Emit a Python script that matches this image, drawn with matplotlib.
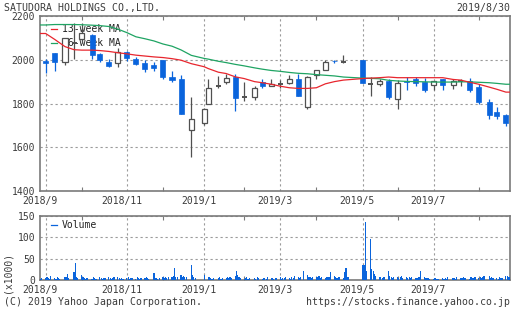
import matplotlib
matplotlib.use("Agg")
import matplotlib.pyplot as plt
import matplotlib.dates as mdates
import matplotlib.transforms as mtransforms
import numpy as np
import pandas as pd

# ---------------- data ----------------
title = "SATUDORA HOLDINGS CO.,LTD."
as_of = "2019/8/30"

week_dates = ["2018-09-03", "2018-09-10", "2018-09-18", "2018-09-25", "2018-10-01",
              "2018-10-09", "2018-10-15", "2018-10-22", "2018-10-29", "2018-11-05",
              "2018-11-12", "2018-11-19", "2018-11-26", "2018-12-03", "2018-12-10",
              "2018-12-17", "2018-12-25", "2019-01-04", "2019-01-07", "2019-01-15",
              "2019-01-21", "2019-01-28", "2019-02-04", "2019-02-12", "2019-02-18",
              "2019-02-25", "2019-03-04", "2019-03-11", "2019-03-18", "2019-03-25",
              "2019-04-01", "2019-04-08", "2019-04-15", "2019-04-22", "2019-05-07",
              "2019-05-13", "2019-05-20", "2019-05-27", "2019-06-03", "2019-06-10",
              "2019-06-17", "2019-06-24", "2019-07-01", "2019-07-08", "2019-07-16",
              "2019-07-22", "2019-07-29", "2019-08-05", "2019-08-13", "2019-08-19",
              "2019-08-26"]

open_ = [1995, 2032, 1990, 2078, 2095, 2115, 2026, 1990, 1983, 2037,
         2004, 1983, 1978, 2000, 1920, 1910, 1679, 1712, 1800, 1880,
         1899, 1923, 1829, 1829, 1900, 1880, 1888, 1895, 1914, 1785,
         1932, 1953, 1995, 1992, 1997, 1888, 1890, 1901, 1822, 1905,
         1910, 1897, 1885, 1910, 1886, 1904, 1901, 1874, 1808, 1762,
         1749]
high = [2003, 2033, 2100, 2170, 2168, 2116, 2030, 2005, 2055, 2040,
        2014, 1998, 1990, 2001, 1947, 1932, 1828, 1778, 1910, 1925,
        1935, 1937, 1898, 1879, 1911, 1910, 1907, 1931, 1936, 1928,
        1955, 1998, 2001, 2020, 1998, 1922, 1910, 1914, 1907, 1923,
        1922, 1916, 1905, 1911, 1912, 1914, 1916, 1890, 1822, 1785,
        1750]
low = [1940, 1948, 1977, 2002, 2078, 2004, 1992, 1965, 1966, 1996,
       1974, 1945, 1948, 1914, 1897, 1750, 1554, 1700, 1798, 1870,
       1887, 1765, 1811, 1818, 1869, 1878, 1872, 1887, 1833, 1776,
       1913, 1952, 1985, 1983, 1893, 1833, 1882, 1822, 1776, 1862,
       1882, 1852, 1862, 1863, 1865, 1879, 1852, 1800, 1729, 1729,
       1696]
close = [1987, 1990, 2098, 2078, 2123, 2022, 1998, 1971, 2037, 2007,
         1982, 1960, 1962, 1920, 1907, 1751, 1730, 1776, 1871, 1880,
         1918, 1824, 1829, 1872, 1879, 1891, 1888, 1914, 1834, 1919,
         1953, 1990, 1993, 1992, 1894, 1888, 1901, 1831, 1895, 1898,
         1895, 1864, 1904, 1884, 1901, 1904, 1861, 1805, 1747, 1742,
         1711]

ma13 = [2120, 2093, 2060, 2046, 2044, 2044, 2042, 2038, 2032, 2027,
        2021, 2017, 2013, 2010, 2005, 1998, 1982, 1968, 1960, 1943,
        1937, 1922, 1914, 1900, 1895, 1888, 1879, 1872, 1869, 1869,
        1872, 1890, 1900, 1907, 1914, 1916, 1918, 1921, 1918, 1918,
        1918, 1918, 1918, 1918, 1910, 1907, 1897, 1888, 1875, 1865,
        1852]
ma26 = [2159, 2161, 2161, 2161, 2160, 2158, 2156, 2152, 2140, 2124,
        2105, 2096, 2086, 2072, 2062, 2045, 2020, 2006, 2003, 1993,
        1987, 1979, 1972, 1963, 1957, 1951, 1947, 1942, 1938, 1936,
        1932, 1929, 1926, 1921, 1916, 1915, 1913, 1906, 1903, 1901,
        1900, 1899, 1898, 1898, 1898, 1899, 1899, 1897, 1895, 1892,
        1888]

# exchange holidays (Tokyo) used to build the daily volume calendar
jp_holidays = ["2018-09-17", "2018-09-24", "2018-10-08", "2018-11-23", "2018-12-24",
               "2018-12-31", "2019-01-01", "2019-01-02", "2019-01-03", "2019-01-14",
               "2019-02-11", "2019-03-21", "2019-04-29", "2019-04-30", "2019-05-01",
               "2019-05-02", "2019-05-03", "2019-05-06", "2019-07-15", "2019-08-12"]

# daily volume (x1000 shares), by month
vol_2018_08 = [3, 4]
vol_2018_09 = [5, 8, 4, 3, 9, 4, 3, 6, 5, 3, 8, 6, 15, 5, 18, 40, 6, 5]
vol_2018_10 = [12, 6, 4, 3, 5, 3, 8, 4, 3, 6, 4, 3, 5, 4, 7, 5, 3, 4, 6, 8, 4, 3]
vol_2018_11 = [5, 3, 4, 6, 3, 5, 4, 3, 6, 4, 3, 5, 4, 8, 5, 3, 16, 5, 4, 3, 5]
vol_2018_12 = [6, 4, 8, 5, 7, 6, 9, 27, 8, 6, 12, 8, 10, 6, 7, 35, 12, 6, 5]
vol_2019_01 = [12, 8, 6, 4, 3, 5, 4, 6, 3, 5, 4, 8, 5, 6, 4, 10, 22, 12, 6]
vol_2019_02 = [5, 3, 4, 6, 3, 4, 5, 3, 6, 4, 3, 5, 4, 3, 6, 4, 5, 3, 4]
vol_2019_03 = [4, 6, 3, 5, 4, 8, 5, 3, 6, 4, 10, 6, 5, 8, 20, 12, 8, 6, 5, 7]
vol_2019_04 = [8, 6, 10, 5, 6, 5, 8, 6, 7, 18, 10, 6, 5, 8, 6, 5, 18, 28, 8, 6]
vol_2019_05 = [35, 35, 135, 20, 97, 25, 20, 15, 10, 8, 6, 5, 8, 6, 22, 10, 6, 5, 8]
vol_2019_06 = [6, 5, 8, 10, 5, 6, 4, 8, 5, 6, 4, 5, 6, 8, 22, 6, 5, 4, 5, 3]
vol_2019_07 = [3, 4, 3, 2, 3, 4, 3, 5, 3, 7, 4, 5, 3, 6, 4, 5, 6, 4, 5, 3, 6, 4]
vol_2019_08 = [5, 6, 4, 8, 5, 6, 10, 9, 5, 6, 4, 5, 3, 6, 4, 5, 10, 9, 6, 8, 5]

volume = (vol_2018_08 + vol_2018_09 + vol_2018_10 + vol_2018_11 + vol_2018_12 +
          vol_2019_01 + vol_2019_02 + vol_2019_03 + vol_2019_04 + vol_2019_05 +
          vol_2019_06 + vol_2019_07 + vol_2019_08)

price_ticks = [1400, 1600, 1800, 2000, 2200]
vol_ticks = [0, 50, 100, 150]

# ---------------- styling ----------------
BLUE = "#0a64dc"
DARK = "#505050"
RED = "#e8262e"
GREEN = "#1fa463"
FRAME = "#7a7a7a"
GRID = "#9a9a9a"
TXT = "#3c3c3c"
plt.rcParams["font.family"] = ["DejaVu Sans Mono", "DejaVu Sans"]
FS = 7.0

W, H = 512, 310
fig = plt.figure(figsize=(W / 100, H / 100), dpi=100)
fig.patch.set_facecolor("white")

ax = fig.add_axes([40 / W, 1 - 191 / H, 470 / W, 175 / H])
axv = fig.add_axes([40 / W, 1 - 280 / H, 470 / W, 64 / H])

wd = mdates.date2num(pd.to_datetime(week_dates).to_pydatetime())
vdates = pd.bdate_range("2018-08-30", "2019-08-30", freq="C",
                        holidays=pd.to_datetime(jp_holidays))
vd = mdates.date2num(vdates.to_pydatetime())
n = min(len(vd), len(volume))

x_left = wd[0] - 4.4
x_right = wd[-1] + 3.2

# --- candles ---
body_w = 3.9
for xi, o, h, l, c in zip(wd, open_, high, low, close):
    if c > o:
        ax.vlines(xi, l, h, color=DARK, lw=0.9, zorder=3)
        ax.bar(xi, c - o, bottom=o, width=body_w, facecolor="white",
               edgecolor=DARK, linewidth=0.9, zorder=4)
    elif c < o:
        ax.vlines(xi, l, h, color=BLUE, lw=0.9, zorder=3)
        ax.bar(xi, o - c, bottom=c, width=body_w, facecolor=BLUE,
               edgecolor=BLUE, linewidth=0.5, zorder=4)
    else:
        ax.vlines(xi, l, h, color=DARK, lw=0.9, zorder=3)
        ax.hlines(o, xi - body_w / 2, xi + body_w / 2, color=DARK, lw=1.4, zorder=4)

# moving averages, held flat out to the frame edges
ext_x = np.concatenate([[x_left], wd, [x_right]])
ax.plot(ext_x, [ma26[0]] + ma26 + [ma26[-1]], color=GREEN, lw=0.9, zorder=5)
ax.plot(ext_x, [ma13[0]] + ma13 + [ma13[-1]], color=RED, lw=0.9, zorder=5)

# --- volume ---
axv.bar(vd[:n], volume[:n], width=0.9, color=BLUE, zorder=3)

# --- axes formatting ---
months = pd.to_datetime(week_dates).to_period("M")
first_in_month = pd.Series(wd).groupby(months).first()
major, minor, labels = [], [], []
for per, xv in first_in_month.items():
    if per.month % 2 == 1:
        major.append(xv)
        labels.append(f"{per.year}/{per.month}")
    else:
        minor.append(xv)

offset = mtransforms.ScaledTranslation(-5.5 / 100, 0, fig.dpi_scale_trans)
for a, ylim, yt in ((ax, (1400, 2200), price_ticks), (axv, (0, 150), vol_ticks)):
    a.set_xlim(x_left, x_right)
    a.set_ylim(*ylim)
    a.set_yticks(yt)
    a.set_yticklabels([str(v) for v in yt])
    a.set_xticks(major)
    a.set_xticklabels(labels)
    a.set_xticks(minor, minor=True)
    a.tick_params(axis="x", which="major", length=0, pad=3.5, labelsize=FS, labelcolor=TXT)
    a.tick_params(axis="x", which="minor", length=3, width=0.8, direction="in",
                  color=FRAME, top=True, bottom=True)
    a.tick_params(axis="y", length=0, pad=3.5, labelsize=FS, labelcolor=TXT)
    for lab in a.get_xticklabels():
        lab.set_transform(lab.get_transform() + offset)
    a.grid(True, which="major", color=GRID, lw=0.8, linestyle=(0, (2, 2.5)), zorder=1)
    a.set_axisbelow(True)
    for s in a.spines.values():
        s.set_color(FRAME)
        s.set_linewidth(1.2)

# legends drawn as text with short handles
for yy, col, txt in ((0.925, RED, "13-week MA"), (0.845, GREEN, "26-week MA")):
    ax.plot([0.024, 0.036], [yy, yy], color=col, lw=0.9, transform=ax.transAxes, zorder=2)
    ax.text(0.046, yy, txt, transform=ax.transAxes, fontsize=FS, color="#222222",
            va="center", ha="left", zorder=2)
axv.plot([0.024, 0.036], [0.86, 0.86], color=BLUE, lw=0.9, transform=axv.transAxes)
axv.text(0.046, 0.86, "Volume", transform=axv.transAxes, fontsize=FS, color="#222222",
         va="center", ha="left")

fig.text(4 / W, 1 - 7.5 / H, title, fontsize=7.1, color=TXT, ha="left", va="center")
fig.text(510 / W, 1 - 7.5 / H, as_of, fontsize=7.1, color=TXT, ha="right", va="center")
fig.text(4 / W, 1 - 302 / H, "(C) 2019 Yahoo Japan Corporation.", fontsize=7.1,
         color=TXT, ha="left", va="center")
fig.text(510 / W, 1 - 302 / H, "https://stocks.finance.yahoo.co.jp", fontsize=7.1,
         color=TXT, ha="right", va="center")
fig.text(7 / W, 1 - 272 / H, "(x1000)", fontsize=7.0, color=TXT, rotation=90,
         ha="center", va="center")

fig.savefig("out.png", dpi=100, facecolor="white")
